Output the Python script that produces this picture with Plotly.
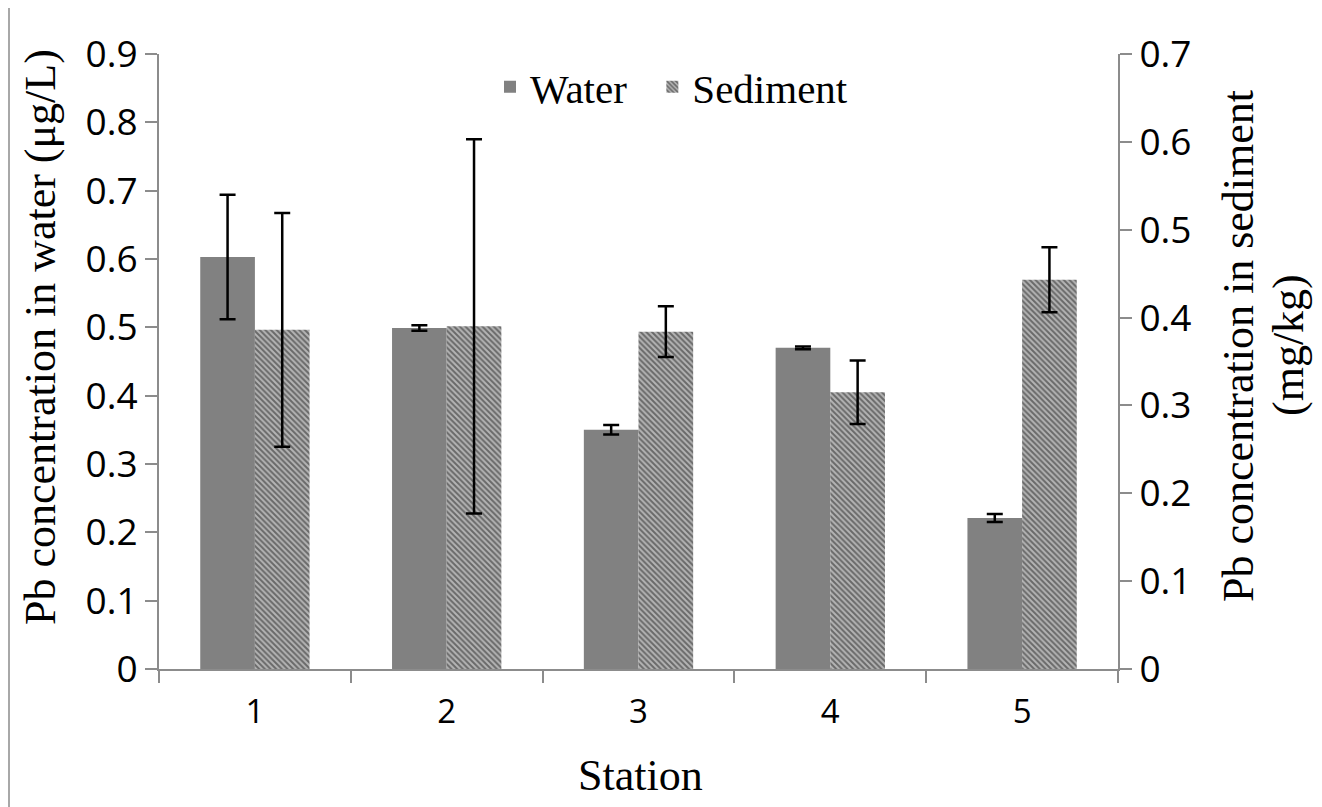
import plotly.graph_objects as go

stations = ["1", "2", "3", "4", "5"]
water = [0.603, 0.499, 0.350, 0.470, 0.221]
water_err = [0.091, 0.004, 0.007, 0.002, 0.006]
sediment = [0.386, 0.390, 0.384, 0.315, 0.443]
sediment_err = [0.133, 0.213, 0.029, 0.036, 0.037]

x_title = "Station"
y_title = "Pb concentration in water (μg/L)"
y2_title_lines = ["Pb concentration in sediment", "(mg/kg)"]

serif = "Liberation Serif"
sans = "Open Sans"

fig = go.Figure()
fig.add_trace(go.Bar(
    x=stations, y=water, name="Water\u00a0\u00a0", yaxis="y", offsetgroup="1",
    marker=dict(color="#818181", line=dict(width=0)),
    error_y=dict(type="data", array=water_err, color="black", thickness=2.5, width=8),
))
fig.add_trace(go.Bar(
    x=stations, y=sediment, name="Sediment", yaxis="y2", offsetgroup="2",
    marker=dict(color="#b4b4b4", line=dict(width=0),
                pattern=dict(shape="\\", fgcolor="#1e1e1e", size=4, solidity=0.5)),
    error_y=dict(type="data", array=sediment_err, color="black", thickness=2.5, width=8),
))

axis_col = "#8c8c8c"
W, H = 1314, 799
L, T = 151, 46
PW, PH = 959, 615


def px(xpage):
    return (xpage - 8 - L) / PW


def py(ypage):
    return (T + PH - (ypage - 8)) / PH


fig.update_layout(
    width=W, height=H,
    margin=dict(l=L, r=W - L - PW, t=T, b=H - T - PH, autoexpand=False),
    plot_bgcolor="white", paper_bgcolor="white",
    barmode="group", bargap=0.43, bargroupgap=0,
    showlegend=True,
    legend=dict(orientation="h", x=px(490), y=py(87), xanchor="left", yanchor="middle",
                font=dict(family=serif, size=41, color="black"), itemwidth=30,
                bgcolor="rgba(0,0,0,0)"),
    xaxis=dict(
        showline=True, linecolor=axis_col, linewidth=2,
        ticks="outside", tickson="boundaries", ticklen=12, tickcolor=axis_col, tickwidth=2,
        tickfont=dict(family=sans, size=33, color="black"), ticklabelstandoff=12,
        showgrid=False, automargin=False,
    ),
    yaxis=dict(
        range=[0, 0.9], dtick=0.1, tickformat="~g",
        showline=True, linecolor=axis_col, linewidth=2,
        ticks="outside", ticklen=12, tickcolor=axis_col, tickwidth=2,
        tickfont=dict(family=sans, size=37, color="black"),
        showgrid=False, zeroline=False, automargin=False,
    ),
    yaxis2=dict(
        range=[0, 0.7], dtick=0.1, tickformat="~g", overlaying="y", side="right",
        showline=True, linecolor=axis_col, linewidth=2,
        ticks="outside", ticklen=12, tickcolor=axis_col, tickwidth=2,
        tickfont=dict(family=sans, size=37, color="black"),
        showgrid=False, zeroline=False, automargin=False,
    ),
    annotations=[
        dict(text=x_title, xref="paper", yref="paper", x=px(640), y=py(775),
             xanchor="center", yanchor="middle", showarrow=False,
             font=dict(family=serif, size=44, color="black")),
        dict(text=y_title, xref="paper", yref="paper", x=px(40), y=py(337), textangle=-90,
             xanchor="center", yanchor="middle", showarrow=False,
             font=dict(family=serif, size=44, color="black")),
        dict(text=y2_title_lines[0], xref="paper", yref="paper", x=px(1238), y=py(346), textangle=-90,
             xanchor="center", yanchor="middle", showarrow=False,
             font=dict(family=serif, size=44, color="black")),
        dict(text=y2_title_lines[1], xref="paper", yref="paper", x=px(1288), y=py(345), textangle=-90,
             xanchor="center", yanchor="middle", showarrow=False,
             font=dict(family=serif, size=44, color="black")),
    ],
    shapes=[dict(type="line", xref="paper", yref="paper", x0=-(L - 1) / PW, x1=-(L - 1) / PW,
                 y0=-0.3, y1=1.2, line=dict(color="#a8a8a8", width=2))],
)

fig.write_html("out.html")
